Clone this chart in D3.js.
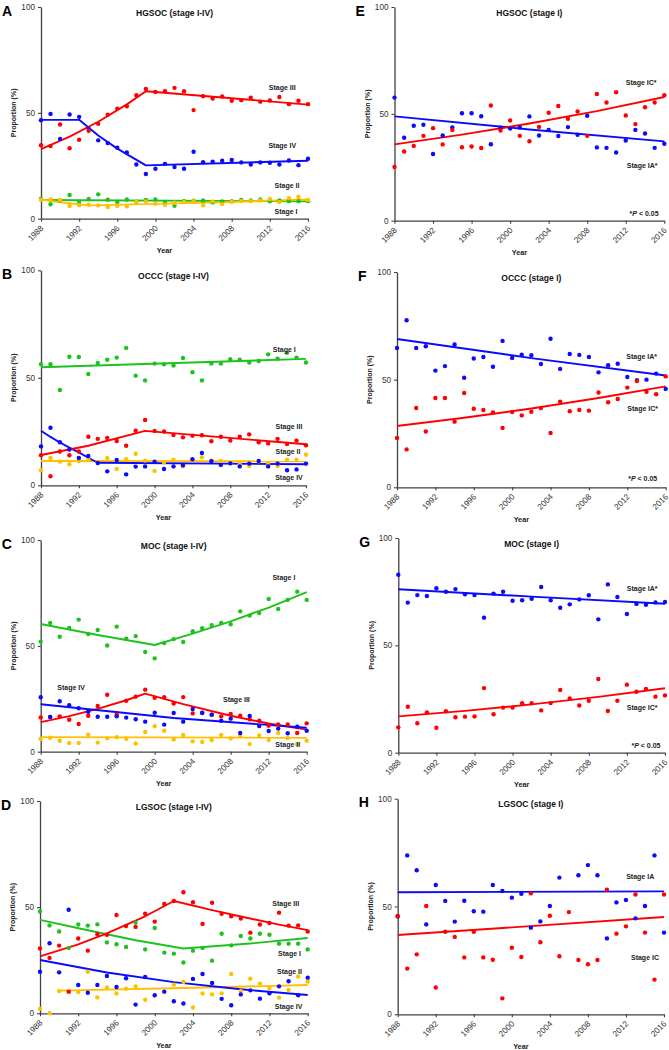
<!DOCTYPE html>
<html><head><meta charset="utf-8">
<script src="https://cdn.jsdelivr.net/npm/d3@7"></script>
<style>
body{margin:0;background:#fff}
svg{display:block}
text{font-family:"Liberation Sans",Arial,Helvetica,sans-serif}
</style>
</head><body>
<svg id="chart" width="669" height="1050"></svg>
<script>
// ---------- categories / ticks ----------
const years = [1988,1989,1990,1991,1992,1993,1994,1995,1996,1997,1998,1999,2000,2001,2002,2003,2004,2005,2006,2007,2008,2009,2010,2011,2012,2013,2014,2015,2016];
const xTicks = [1988,1992,1996,2000,2004,2008,2012,2016];
const yTicks = [0,50,100];

// ---------- A: HGSOC (stage I-IV) ----------
const aStageIII = [34.7,34.3,44.5,33.3,37.3,41.5,44.8,49.1,52.0,53.1,58.3,61.3,59.9,60.2,61.8,60.2,51.3,57.9,56.8,57.7,55.7,56.0,57.2,55.3,55.8,57.5,54.1,55.7,54.1];
const aStageIV  = [46.5,49.5,37.7,49.2,48.1,42.5,37.0,35.7,33.5,31.3,25.6,21.1,23.6,25.9,24.4,23.6,31.6,26.7,26.9,27.4,27.7,26.6,25.6,26.6,26.4,25.6,27.5,25.3,28.3];
const aStageII  = [9.4,6.8,8.6,11.2,7.9,9.3,11.5,9.0,7.9,9.1,8.0,8.8,9.1,7.9,6.1,8.3,8.5,8.6,7.7,8.2,8.3,8.8,8.6,9.1,8.2,8.6,8.3,8.3,8.3];
const aStageI   = [9.0,9.1,8.8,6.0,6.4,6.6,6.3,5.5,6.1,5.8,8.0,8.2,7.1,6.6,7.5,7.9,8.3,6.3,8.2,6.9,8.0,8.3,8.3,8.6,9.3,7.9,9.7,10.4,8.8];
const aFitIII = [[1988,32.9],[1991,38.8],[1994,45.8],[1997,54.0],[1999,60.2],[2016,53.9]];
const aFitIV  = [[1988,46.7],[1992,46.7],[1994,39.3],[1996,33.1],[1999,25.2],[2016,27.4]];
const aFitII  = [[1988,8.8],[2016,8.2]];
const aFitI   = [[1988,9.1],[1990,7.8],[1993,6.3],[2000,7.0],[2008,7.9],[2016,9.1]];

// ---------- E: HGSOC (stage I) ----------
const eStageIA = [57.6,38.8,44.4,44.9,31.2,39.9,43.6,50.3,50.3,48.9,35.8,43.5,43.1,43.6,48.8,39.9,42.5,39.6,43.8,40.2,49.1,34.3,34.1,31.9,37.5,42.5,40.8,34.1,36.0];
const eStageIC = [25.1,32.4,35.0,39.7,43.3,35.7,42.5,34.4,34.7,34.0,53.9,42.2,46.9,39.7,37.2,43.9,50.5,53.7,47.7,51.1,39.7,59.3,55.3,60.1,49.2,45.2,53.1,55.3,58.7];
const eFitIA = [[1988,48.8],[2002,42.7],[2016,37.1]];
const eFitIC = [[1988,35.7],[1995,40.3],[2002,45.5],[2009,51.3],[2016,57.9]];

// ---------- B: OCCC (stage I-IV) ----------
const bStageI   = [56.3,56.3,44.3,59.8,59.7,51.8,56.9,58.4,59.4,63.9,51.0,48.8,56.6,56.3,55.7,59.2,52.6,48.8,56.6,56.6,58.6,58.4,57.1,57.8,60.9,58.9,61.6,59.4,57.1];
const bStageIII = [14.0,4.2,15.7,14.0,15.7,22.6,21.6,22.0,20.6,18.4,25.4,30.4,25.3,25.0,23.4,22.3,23.1,23.3,20.5,22.6,20.8,22.6,23.7,20.0,19.5,21.6,19.2,20.8,18.6];
const bStageII  = [7.0,12.7,11.0,9.8,11.3,11.9,10.9,12.7,7.6,12.1,14.7,11.5,6.7,10.7,11.9,8.8,11.6,13.0,11.5,11.3,10.2,9.8,9.1,11.2,10.4,9.0,11.9,11.9,14.3];
const bStageIV  = [18.1,26.8,20.0,16.6,12.7,13.6,10.4,6.5,11.8,5.1,8.7,8.8,11.0,7.6,8.8,9.3,12.1,15.0,11.2,9.5,10.2,8.8,10.1,11.3,8.8,10.1,7.0,7.4,10.1];
const bFitI   = [[1988,54.9],[2016,58.8]];
const bFitIII = [[1988,14.1],[1993,18.4],[1999,25.3],[2016,19.1]];
const bFitII  = [[1988,11.3],[2016,11.2]];
const bFitIV  = [[1988,25.4],[1989,22.5],[1990,19.9],[1991,17.5],[1992,15.3],[1993,12.8],[1994,10.5],[2016,9.8]];

// ---------- F: OCCC (stage I) ----------
const fStageIA = [64.7,77.6,64.7,65.5,54.2,56.3,66.3,50.9,59.8,60.5,56.0,68.0,60.1,61.6,61.3,57.3,69.0,55.0,61.9,61.5,60.5,53.4,56.7,57.4,51.2,49.8,50.0,52.8,45.7];
const fStageIC = [22.9,17.6,36.8,25.9,41.5,41.5,30.5,43.8,36.5,35.9,34.8,27.6,35.0,33.4,35.1,36.8,25.2,39.8,35.3,35.9,35.6,44.0,39.5,41.0,46.3,49.4,44.4,43.2,51.5];
const fFitIA = [[1988,68.9],[2002,60.0],[2016,51.9]];
const fFitIC = [[1988,28.5],[1995,32.3],[2002,36.6],[2009,41.5],[2016,46.9]];

// ---------- C: MOC (stage I-IV) ----------
const cStageI   = [52.0,60.8,54.3,58.4,62.4,55.6,57.5,50.2,59.1,53.4,54.6,47.1,44.1,51.3,53.2,51.8,56.9,58.3,59.8,60.8,60.2,66.3,64.3,65.5,72.1,67.4,71.7,75.6,71.7];
const cStageIII = [16.2,16.4,16.7,15.1,13.1,17.0,21.6,26.9,17.5,24.1,26.0,29.3,25.5,25.7,22.8,25.8,18.1,18.3,17.5,16.7,17.8,17.0,15.3,14.6,12.3,12.9,12.9,8.8,13.4];
const cStageIV  = [25.7,16.4,23.8,22.0,20.5,18.9,16.5,16.5,16.7,16.1,15.3,14.2,18.4,12.8,18.3,14.2,20.2,18.4,17.5,14.6,15.6,8.8,16.9,12.1,9.8,10.9,8.7,11.8,9.9];
const cStageII  = [6.0,6.6,5.2,4.1,4.1,8.0,4.3,6.3,6.8,6.1,3.9,9.3,12.0,9.9,5.8,7.9,4.9,4.6,5.5,7.9,6.3,7.4,3.6,7.7,5.5,8.8,6.5,3.6,5.2];
const cFitI   = [[1988,60.3],[1994,55.1],[2000,50.4],[2004,55.8],[2008,61.6],[2012,68.1],[2016,75.4]];
const cFitIII = [[1988,14.0],[1991,16.8],[1994,20.2],[1997,24.3],[1999,27.4],[2003,22.5],[2008,17.0],[2012,13.3],[2016,10.4]];
const cFitIV  = [[1988,22.4],[2002,15.9],[2016,11.3]];
const cFitII  = [[1988,6.9],[2016,6.6]];

// ---------- G: MOC (stage I) ----------
const gStageIA = [82.9,69.9,73.4,73.0,76.6,75.0,76.2,73.8,73.4,62.9,74.1,75.0,70.8,71.0,71.7,77.2,71.0,67.5,69.1,71.4,73.3,62.1,78.4,72.5,64.6,69.3,68.9,70.0,70.2];
const gStageIC = [11.8,21.4,13.7,18.8,11.6,19.3,16.5,16.8,16.9,30.1,17.9,21.0,21.0,23.0,23.1,19.7,23.1,29.2,25.3,22.0,24.2,34.3,19.4,24.2,31.7,28.4,29.7,26.1,26.7];
const gFitIA = [[1988,76.1],[2002,72.7],[2016,69.4]];
const gFitIC = [[1988,16.9],[1995,19.5],[2002,22.5],[2009,26.0],[2016,30.0]];

// ---------- D: LGSOC (stage I-IV) ----------
const dStageIII = [30.5,26.1,31.9,10.2,35.2,29.5,37.2,37.0,46.3,41.1,40.7,46.9,43.2,51.5,52.9,57.0,52.3,42.1,52.1,46.9,45.7,44.6,38.0,41.8,42.5,47.4,41.3,41.4,38.5];
const dStageI   = [48.0,41.4,38.5,30.8,41.8,41.3,41.9,33.4,32.5,31.2,42.7,30.1,40.2,28.6,28.1,23.9,29.5,30.8,24.8,37.5,32.0,36.4,35.2,37.5,37.0,32.8,32.8,32.8,30.1];
const dStageIV  = [19.6,33.0,19.3,48.8,13.3,9.7,13.3,17.6,12.4,16.5,4.1,17.1,8.5,10.2,5.7,4.6,16.2,18.5,14.3,6.8,3.8,8.9,10.8,6.9,9.4,12.7,15.1,8.5,16.8];
const dStageII  = [2.2,0.0,10.5,10.2,10.0,19.6,7.5,12.2,9.3,11.6,12.7,6.4,null,null,13.5,14.8,2.7,9.3,8.9,9.4,18.5,10.5,16.3,14.0,11.8,7.4,11.0,17.3,14.9];
const dFitIII = [[1988,26.8],[1992,32.5],[1995,37.7],[1999,45.7],[2002,52.9],[2006,48.6],[2009,45.6],[2013,41.8],[2016,39.2]];
const dFitI   = [[1988,44.0],[1993,39.1],[1998,34.4],[2003,30.5],[2010,32.9],[2016,35.5]];
const dFitIV  = [[1988,25.1],[1995,19.2],[2002,14.7],[2009,11.3],[2016,8.6]];
const dFitII  = [[1990,10.7],[2003,11.9],[2016,13.3]];

// ---------- H: LGSOC (stage I) ----------
const hStageIA = [45.4,73.7,66.8,41.7,60.0,52.6,43.0,52.7,47.8,47.6,60.0,57.2,54.1,55.9,40.2,43.1,50.2,63.4,null,64.5,69.2,64.5,35.2,51.9,53.0,44.5,50.2,73.7,37.9];
const hStageIC = [45.6,21.2,27.8,50.2,12.4,38.3,35.9,26.4,38.3,26.4,25.3,7.4,30.9,26.6,56.1,33.4,45.7,26.9,47.4,25.2,23.2,25.2,57.8,37.4,40.8,55.6,37.9,16.1,55.6];
const hFitIA = [[1988,56.6],[2016,57.0]];
const hFitIC = [[1988,36.8],[2002,40.9],[2016,45.1]];

// ---------- styles ----------
const RED = "#ff0000", BLUE = "#0a0aff", GREEN = "#1ec21e", GOLD = "#ffc000";

// ---------- panel layout ----------
const panels = [
  {letter:"A", title:"HGSOC (stage I-IV)", x0:41, x1:308, yT:7, yB:218.7,
   series:[[aStageII,aFitII,GREEN],[aStageI,aFitI,GOLD],[aStageIV,aFitIV,BLUE],[aStageIII,aFitIII,RED]],
   labels:[["Stage III",2013.3,62.0],["Stage IV",2013.3,34.4],["Stage II",2013.8,15.6],["Stage I",2013.7,3.5]]},
  {letter:"E", title:"HGSOC (stage I)", x0:394.5, x1:664.3, yT:7, yB:220.7,
   series:[[eStageIA,eFitIA,BLUE],[eStageIC,eFitIC,RED]],
   labels:[["Stage IC*",2013.6,64.5],["Stage IA*",2013.7,25.7],["P",2013.9,3.3]]},
  {letter:"B", title:"OCCC (stage I-IV)", x0:41, x1:306, yT:270.3, yB:485.3,
   series:[[bStageI,bFitI,GREEN],[bStageII,bFitII,GOLD],[bStageIV,bFitIV,BLUE],[bStageIII,bFitIII,RED]],
   labels:[["Stage I",2013.7,63.3],["Stage III",2014.2,27.1],["Stage II",2014.1,15.5],["Stage IV",2014.2,3.4]]},
  {letter:"F", title:"OCCC (stage I)", x0:397, x1:665.7, yT:272, yB:487.3,
   series:[[fStageIA,fFitIA,BLUE],[fStageIC,fFitIC,RED]],
   labels:[["Stage IA*",2013.5,60.7],["Stage IC*",2013.6,36.5],["P",2013.6,3.9]]},
  {letter:"C", title:"MOC (stage I-IV)", x0:40.7, x1:306.7, yT:540, yB:751.7,
   series:[[cStageI,cFitI,GREEN],[cStageII,cFitII,GOLD],[cStageIII,cFitIII,RED],[cStageIV,cFitIV,BLUE]],
   labels:[["Stage I",2013.6,82.4],["Stage IV",1991.2,30.1],["Stage III",2008.6,24.7],["Stage II",2014.0,3.5]]},
  {letter:"G", title:"MOC (stage I)", x0:398.3, x1:665, yT:538, yB:752.7,
   series:[[gStageIA,gFitIA,BLUE],[gStageIC,gFitIC,RED]],
   labels:[["Stage IA*",2013.6,76.4],["Stage IC*",2013.6,20.8],["P",2014.0,3.4]]},
  {letter:"D", title:"LGSOC (stage I-IV)", x0:40, x1:307.7, yT:801, yB:1013.3,
   series:[[dStageI,dFitI,GREEN],[dStageII,dFitII,GOLD],[dStageIV,dFitIV,BLUE],[dStageIII,dFitIII,RED]],
   labels:[["Stage III",2013.7,51.8],["Stage I",2014.1,28.1],["Stage II",2014.1,19.9],["Stage IV",2014.0,3.1]]},
  {letter:"H", title:"LGSOC (stage I)", x0:397.7, x1:664, yT:798.7, yB:1014.3,
   series:[[hStageIA,hFitIA,BLUE],[hStageIC,hFitIC,RED]],
   labels:[["Stage IA",2013.5,63.7],["Stage IC",2014.0,26.1]]}
];

const svg = d3.select("#chart");
const AXIS = "#404040";

panels.forEach(p => {
  const x = d3.scaleLinear().domain([1988, 2016]).range([p.x0, p.x1]);
  const y = d3.scaleLinear().domain([0, 100]).range([p.yB, p.yT]);
  const g = svg.append("g");

  // axes
  const gy = g.append("g").attr("transform", `translate(${p.x0},0)`)
    .call(d3.axisLeft(y).tickValues(yTicks).tickSize(3).tickSizeOuter(0).tickPadding(3));
  const gx = g.append("g").attr("transform", `translate(0,${p.yB})`)
    .call(d3.axisBottom(x).tickValues(xTicks).tickSize(3).tickSizeOuter(0).tickFormat(d3.format("d")));
  [gx, gy].forEach(a => {
    a.select(".domain").attr("stroke", AXIS).attr("stroke-width", 1.3);
    a.selectAll(".tick line").attr("stroke", AXIS).attr("stroke-width", 1.1);
    a.selectAll(".tick text").attr("fill", "#333").style("font-size", "8.2px");
  });
  gx.selectAll(".tick text")
    .attr("x", 0).attr("y", 0).attr("dy", "0.35em")
    .attr("text-anchor", "end")
    .attr("transform", "translate(0.5,8) rotate(-45)");

  // axis titles
  g.append("text").attr("transform", `translate(${p.x0 - 27},${(p.yT + p.yB) / 2}) rotate(-90)`)
    .attr("text-anchor", "middle").attr("dy", "0.35em")
    .style("font-size", "7px").style("font-weight", "bold").attr("fill", "#222")
    .text("Proportion (%)");
  g.append("text").attr("x", (p.x0 + p.x1) / 2 - 10).attr("y", p.yB + 34.5)
    .attr("text-anchor", "middle")
    .style("font-size", "7.3px").style("font-weight", "bold").attr("fill", "#222")
    .text("Year");

  // title and letter
  g.append("text").attr("x", (p.x0 + p.x1) / 2).attr("y", p.yT + 8.5)
    .attr("text-anchor", "middle")
    .style("font-size", "8.5px").style("font-weight", "bold").attr("fill", "#111")
    .text(p.title);
  g.append("text").attr("x", p.x0 - 39).attr("y", p.yT + 8.5)
    .style("font-size", "14px").style("font-weight", "bold").attr("fill", "#000")
    .text(p.letter);

  // fit lines
  const line = d3.line().x(d => x(d[0])).y(d => y(d[1]));
  p.series.forEach(([vals, fit, col]) => {
    g.append("path").datum(fit).attr("d", line)
      .attr("fill", "none").attr("stroke", col).attr("stroke-width", 1.9)
      .attr("stroke-linejoin", "round");
  });
  // points
  p.series.forEach(([vals, fit, col]) => {
    const pts = years.map((yr, i) => [yr, vals[i]]).filter(d => d[1] !== null);
    g.append("g").selectAll("circle").data(pts).join("circle")
      .attr("cx", d => x(d[0])).attr("cy", d => y(d[1])).attr("r", 2.2)
      .attr("fill", col);
  });

  // labels
  p.labels.forEach(([txt, yr, val]) => {
    const t = g.append("text").attr("x", x(yr)).attr("y", y(val)).attr("dy", "0.35em")
      .attr("text-anchor", "middle")
      .style("font-size", "7px").style("font-weight", "bold").attr("fill", "#222");
    if (txt === "P") {
      t.append("tspan").text("*");
      t.append("tspan").style("font-style", "italic").text("P");
      t.append("tspan").text(" < 0.05");
    } else {
      t.text(txt);
    }
  });
});
</script>
</body></html>
